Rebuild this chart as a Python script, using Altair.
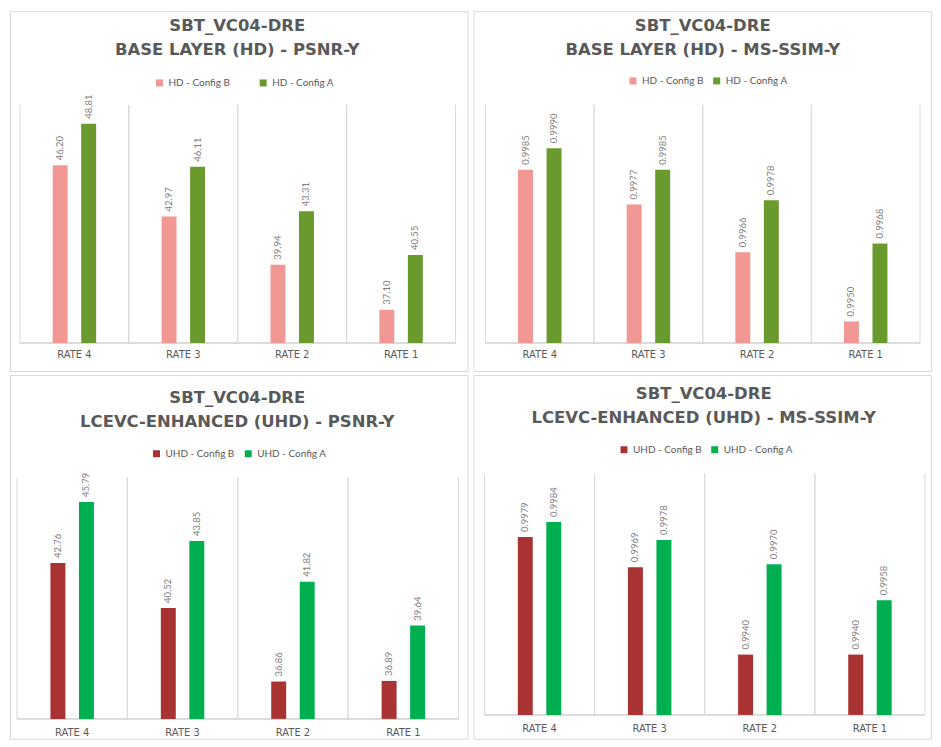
import altair as alt
import pandas as pd

categories = ["RATE 4", "RATE 3", "RATE 2", "RATE 1"]

hd_names = ["HD - Config B", "HD - Config A"]
uhd_names = ["UHD - Config B", "UHD - Config A"]

hd_psnr_b = [46.20, 42.97, 39.94, 37.10]
hd_psnr_a = [48.81, 46.11, 43.31, 40.55]
hd_ssim_b = [0.9985, 0.9977, 0.9966, 0.9950]
hd_ssim_a = [0.9990, 0.9985, 0.9978, 0.9968]
uhd_psnr_b = [42.76, 40.52, 36.86, 36.89]
uhd_psnr_a = [45.79, 43.85, 41.82, 39.64]
uhd_ssim_b = [0.9979, 0.9969, 0.9940, 0.9940]
uhd_ssim_a = [0.9984, 0.9978, 0.9970, 0.9958]

title_tl = ["SBT_VC04-DRE", "BASE LAYER (HD) - PSNR-Y"]
title_tr = ["SBT_VC04-DRE", "BASE LAYER (HD) - MS-SSIM-Y"]
title_bl = ["SBT_VC04-DRE", "LCEVC-ENHANCED (UHD) - PSNR-Y"]
title_br = ["SBT_VC04-DRE", "LCEVC-ENHANCED (UHD) - MS-SSIM-Y"]

hd_colors = ["#f19894", "#6a9a2e"]
uhd_colors = ["#a93232", "#00b050"]

DARK = "#595959"
LABEL = "#7f7f7f"
GRID = "#d9d9d9"
BAR_W = 15
HALF = 14.3
PW = 459


def panel(title_lines, names, colors, vals_b, vals_a, ydom, fmt, lay, height):
    df = pd.DataFrame({
        "cat": categories * 2,
        "series": [names[0]] * 4 + [names[1]] * 4,
        "value": vals_b + vals_a,
    })
    cats_df = pd.DataFrame({"cat": categories})
    x0, x1 = lay["px"]
    base, top = lay["py"]
    W = (x1 - x0) / 4.0
    po = W / (4 * HALF) - 1
    xscale = alt.Scale(domain=categories, range=[x0, x1], paddingInner=0, paddingOuter=0)
    yscale = alt.Scale(domain=ydom, range=[base, top], zero=False, nice=False)
    xenc = alt.X("cat:N", scale=xscale, axis=None, sort=categories)
    xoff = alt.XOffset("series:N", scale=alt.Scale(domain=names, paddingInner=0, paddingOuter=po), sort=names)

    grid0 = alt.Chart(cats_df).mark_rule(color=GRID, strokeWidth=1).encode(
        x=alt.X("cat:N", scale=xscale, axis=None, sort=categories, bandPosition=0),
        y=alt.YDatum(ydom[0], scale=yscale, axis=None),
        y2=alt.Y2Datum(ydom[1]),
    )
    grid1 = alt.Chart(cats_df).mark_rule(color=GRID, strokeWidth=1).encode(
        x=alt.X("cat:N", scale=xscale, axis=None, sort=categories, bandPosition=1),
        y=alt.YDatum(ydom[0], scale=yscale, axis=None),
        y2=alt.Y2Datum(ydom[1]),
    )
    baseline = alt.Chart(cats_df).mark_rule(color=GRID, strokeWidth=1).encode(
        x=alt.value(x0), x2=alt.value(x1),
        y=alt.YDatum(ydom[0], scale=yscale, axis=None),
    )
    bars = alt.Chart(df).mark_bar(width=BAR_W).encode(
        x=xenc,
        xOffset=xoff,
        y=alt.Y("value:Q", scale=yscale, axis=None),
        y2=alt.Y2Datum(ydom[0]),
        color=alt.Color(
            "series:N",
            scale=alt.Scale(domain=names, range=colors),
            sort=names,
            legend=alt.Legend(
                orient="none", legendX=lay["lx"], legendY=lay["ly"],
                direction="horizontal", title=None, symbolType="square",
                symbolSize=49, symbolStrokeWidth=0, labelFont="Lato",
                labelFontSize=10, labelColor=DARK, labelOffset=4,
                columnPadding=lay["cp"], padding=0,
            ),
        ),
    )
    labels = alt.Chart(df).mark_text(
        angle=270, align="left", baseline="middle", dx=5,
        font="Lato", fontSize=9.5, color=LABEL,
    ).encode(
        x=xenc, xOffset=xoff,
        y=alt.Y("value:Q", scale=yscale, axis=None),
        text=alt.Text("value:Q", format=fmt),
    )
    catlabels = alt.Chart(cats_df).mark_text(
        font="DejaVu Sans", fontSize=10, color=DARK, baseline="middle",
    ).encode(
        x=xenc, y=alt.value(lay["laby"]), text="cat:N",
    )
    title = alt.Chart(pd.DataFrame({"k": [0]})).mark_text(
        font="DejaVu Sans", fontWeight="bold", fontSize=16.5, color=DARK,
        lineHeight=24, align="center", baseline="middle",
    ).encode(
        x=alt.value(lay["tx"]), y=alt.value(lay["ty"]), text=alt.value(title_lines),
    )
    return alt.layer(grid0, grid1, baseline, bars, labels, catlabels, title).properties(
        width=PW, height=height
    )


lay_tl = dict(px=(10, 447), py=(333, 94), tx=228, ty=15, lx=145, ly=67, cp=28, laby=345)
lay_tr = dict(px=(12, 448), py=(333, 94), tx=230, ty=15, lx=155, ly=65, cp=8, laby=345)
lay_bl = dict(px=(7, 450), py=(345, 103), tx=228, ty=23, lx=142, ly=74, cp=8, laby=359)
lay_br = dict(px=(11, 453), py=(341, 99), tx=231, ty=19, lx=146, ly=70, cp=7, laby=355)

tl = panel(title_tl, hd_names, hd_colors, hd_psnr_b, hd_psnr_a, [35, 50], ".2f", lay_tl, 361)
tr = panel(title_tr, hd_names, hd_colors, hd_ssim_b, hd_ssim_a, [0.9945, 1.0], ".4f", lay_tr, 361)
bl = panel(title_bl, uhd_names, uhd_colors, uhd_psnr_b, uhd_psnr_a, [35, 47], ".2f", lay_bl, 365)
br = panel(title_br, uhd_names, uhd_colors, uhd_ssim_b, uhd_ssim_a, [0.992, 1.0], ".4f", lay_br, 365)

ind = dict(x="independent", y="independent", color="independent", xOffset="independent")
row1 = alt.hconcat(tl, tr, spacing=4).resolve_scale(**ind).resolve_legend(color="independent")
row2 = alt.hconcat(bl, br, spacing=4).resolve_scale(**ind).resolve_legend(color="independent")
chart = (
    alt.vconcat(row1, row2, spacing=2)
    .resolve_scale(**ind)
    .resolve_legend(color="independent")
    .properties(padding=1, background="white")
    .configure_view(stroke="#d9d9d9", strokeWidth=1)
    .configure_axis(disable=True)
)

chart.save("out.html", embed_options={"renderer": "svg", "actions": False})
